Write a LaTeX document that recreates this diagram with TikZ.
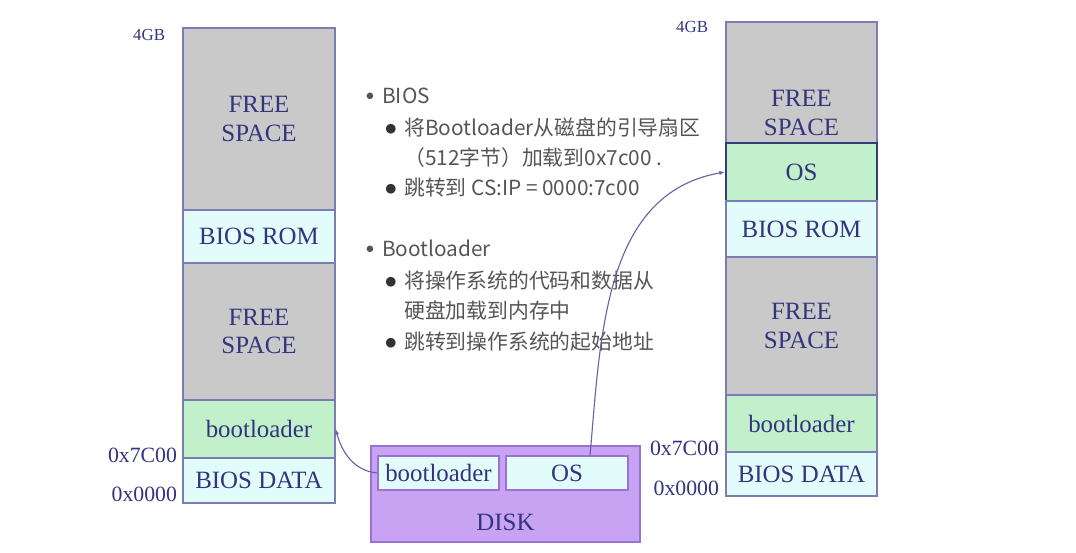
\documentclass[tikz,border=0pt]{standalone}
\usepackage{fontspec}
\setmainfont{Liberation Serif}
\newfontfamily\cjk{Noto Sans CJK SC}
\newfontfamily\sym{DejaVu Sans}
\usetikzlibrary{arrows.meta}

\definecolor{memline}{HTML}{7C7CB4}
\definecolor{memtext}{HTML}{34347E}
\definecolor{freegray}{HTML}{C9C9C9}
\definecolor{romcyan}{HTML}{E2FCFC}
\definecolor{bootgreen}{HTML}{C2F0CA}
\definecolor{osline}{HTML}{2E3E78}
\definecolor{diskfill}{HTML}{C9A3F3}
\definecolor{diskline}{HTML}{9A72D2}
\definecolor{itemgray}{HTML}{555555}
\definecolor{linkblue}{HTML}{6464AC}

\begin{document}
\begin{tikzpicture}[x=0.025cm,y=-0.025cm]

    \tikzset{
      memtxt/.style={
        inner sep=0pt,
        align=center,
        text=memtext,
        font=\fontsize{17.7}{20.5}\selectfont,
      },
      mem/.style={memtxt,draw=memline,line width=0.9pt},
      free/.style={mem,fill=freegray},
      rom/.style={mem,fill=romcyan},
      boot/.style={mem,fill=bootgreen},
      addr/.style={anchor=east,text=memtext,font=\fontsize{15.5}{17}\selectfont},
      top/.style={anchor=east,text=memtext,font=\fontsize{12}{14}\selectfont},
      item/.style={anchor=west,inner sep=0pt,text=itemgray,font=\cjk\fontsize{14.8}{17}\selectfont},
      link/.style={draw=linkblue,line width=0.8pt,-{Latex[length=4pt,width=3pt]}},
    }
    \newcommand{\lvlone}[1]{\makebox[0.4cm][l]{\raisebox{3.3pt}{\sym\fontsize{6}{6}\selectfont ●}}#1}
    \newcommand{\lvltwo}[1]{\makebox[0.475cm][l]{\raisebox{2.2pt}{\sym\fontsize{9}{9}\selectfont\color{black!80}●}}#1}

    \useasboundingbox (0,0) rectangle (1076,552);

	% left memory map
	\node[free,minimum width=3.8cm,minimum height=4.55cm] (lfree1) at (259,119) {FREE\\SPACE};
	\node[rom,minimum width=3.8cm,minimum height=1.325cm] (lrom) at (259,236.5) {BIOS ROM};
	\node[free,minimum width=3.8cm,minimum height=3.425cm] (lfree2) at (259,331.5) {FREE\\SPACE};
	\node[boot,minimum width=3.8cm,minimum height=1.45cm] (lboot) at (259,429) {bootloader};
	\node[rom,minimum width=3.8cm,minimum height=1.125cm] (ldata) at (259,480.5) {BIOS DATA};
	\node[top] (ltop) at (170,35) {4GB};
	\node[addr] (l7c00) at (182,455) {0x7C00};
	\node[addr] (lzero) at (182,494) {0x0000};

	% right memory map
	\node[free,minimum width=3.775cm,minimum height=3.025cm] (rfree1) at (801.5,82.5) {};
	\node[memtxt] (rfreetext) at (801.5,113) {FREE\\SPACE};
	\node[boot,draw=osline,line width=1.4pt,minimum width=3.775cm,minimum height=1.45cm] (ros) at (801.5,172) {OS};
	\node[rom,minimum width=3.775cm,minimum height=1.4cm] (rrom) at (801.5,229) {BIOS ROM};
	\node[free,minimum width=3.775cm,minimum height=3.45cm] (rfree2) at (801.5,326) {FREE\\SPACE};
	\node[boot,minimum width=3.775cm,minimum height=1.425cm] (rboot) at (801.5,423.5) {bootloader};
	\node[rom,minimum width=3.775cm,minimum height=1.1cm] (rdata) at (801.5,474) {BIOS DATA};
	\node[top] (rtop) at (713,27) {4GB};
	\node[addr] (r7c00) at (724,448) {0x7C00};
	\node[addr] (rzero) at (724,488) {0x0000};

	% disk
	\node[mem,fill=diskfill,draw=diskline,minimum width=6.725cm,minimum height=2.4cm] (disk) at (505.5,494) {};
	\node[memtxt] (disktext) at (505.5,522) {DISK};
	\node[rom,draw=diskline,minimum width=3.025cm,minimum height=0.85cm] (dboot) at (438.5,473) {bootloader};
	\node[rom,draw=diskline,minimum width=3.05cm,minimum height=0.85cm] (dos) at (567,473) {OS};
	\coordinate (osfrom) at (590,456);

	% notes
	\node[item] (n1) at (366,96) {\lvlone{BIOS}};
	\node[item] (n2) at (385,128) {\lvltwo{将Bootloader从磁盘的引导扇区}};
	\node[item] (n3) at (404,158) {（512字节）加载到0x7c00 .};
	\node[item] (n4) at (385,188) {\lvltwo{跳转到 CS:IP = 0000:7c00}};
	\node[item] (n5) at (366,248) {\lvlone{Bootloader}};
	\node[item] (n6) at (385,281) {\lvltwo{将操作系统的代码和数据从}};
	\node[item] (n7) at (404,311) {硬盘加载到内存中};
	\node[item] (n8) at (385,342) {\lvltwo{跳转到操作系统的起始地址}};

	% loading
	\draw[link] (dboot.west) to[out=175,in=-75] (lboot.east);
	\draw[link] (osfrom) to[out=85,in=190] (ros.west);

\end{tikzpicture}
\end{document}
